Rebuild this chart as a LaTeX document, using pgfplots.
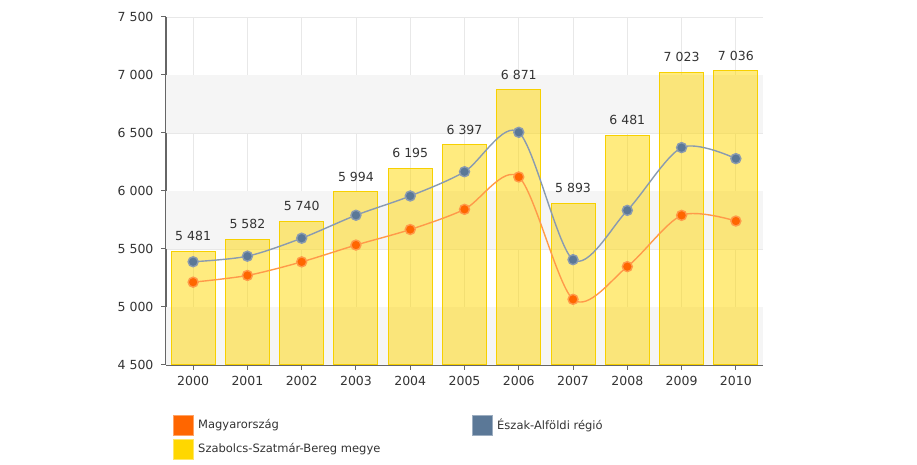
\documentclass[border=0pt]{standalone}
\usepackage{pgfplots}
\pgfplotsset{compat=1.18}
\usepackage{fontspec}
\setmainfont{DejaVu Sans}

\definecolor{txt}{HTML}{333333}
\definecolor{band}{HTML}{F5F5F5}
\definecolor{gridc}{HTML}{E8E8E8}
\definecolor{axisc}{HTML}{666666}
\definecolor{gold}{HTML}{FFD700}
\definecolor{goldedge}{HTML}{F7D000}
\definecolor{orgmark}{HTML}{FF6600}
\definecolor{orgline}{HTML}{FF9A4A}
\definecolor{bluemark}{HTML}{5B7897}
\definecolor{blueline}{HTML}{8A9BB0}

\begin{document}
\begin{tikzpicture}
\path[use as bounding box] (0pt,0pt) rectangle (917pt,465pt);
\begin{axis}[
  at={(166pt,100pt)}, anchor=south west,
  scale only axis,
  width=597pt, height=348pt,
  xmin=-0.5, xmax=10.5,
  ymin=4500, ymax=7500,
  axis x line*=bottom, axis y line*=left,
  axis line style={axisc, line width=1.3pt, -},
  xtick={0,...,10},
  xticklabels={2000,2001,2002,2003,2004,2005,2006,2007,2008,2009,2010},
  ytick={4500,5000,5500,6000,6500,7000,7500},
  yticklabels={4 500,5 000,5 500,6 000,6 500,7 000,7 500},
  tick align=outside,
  major tick length=5pt,
  tick style={axisc, line width=1pt},
  ticklabel style={font=\fontsize{12.5}{14}\selectfont, text=txt},
  xticklabel style={yshift=-3pt},
  yticklabel style={xshift=-4pt},
  xmajorgrids, ymajorgrids,
  grid style={gridc, line width=0.8pt},
]
\fill[band] (axis cs:-0.5,4500) rectangle (axis cs:10.5,5000);
\fill[band] (axis cs:-0.5,5500) rectangle (axis cs:10.5,6000);
\fill[band] (axis cs:-0.5,6500) rectangle (axis cs:10.5,7000);

% Szabolcs-Szatmar-Bereg megye
\addplot[ybar, bar width=0.81, fill=gold, fill opacity=0.5, draw=goldedge, line width=1pt,
  point meta=explicit symbolic,
  nodes near coords,
  nodes near coords style={font=\fontsize{12.5}{14}\selectfont, text=txt, text opacity=1, anchor=south, inner sep=0pt, yshift=10pt}]
  coordinates {
   (0,5481) [5 481]
   (1,5582) [5 582]
   (2,5740) [5 740]
   (3,5994) [5 994]
   (4,6195) [6 195]
   (5,6397) [6 397]
   (6,6871) [6 871]
   (7,5893) [5 893]
   (8,6481) [6 481]
   (9,7023) [7 023]
   (10,7036) [7 036]
  };

% Eszak-Alfoldi regio
\addplot[blueline, line width=1.4pt, smooth, mark=*, mark size=5pt,
  mark options={fill=bluemark, draw=none}]
  coordinates {
   (0,5390)(1,5438)(2,5593)(3,5791)(4,5957)(5,6166)
   (6,6506)(7,5408)(8,5833)(9,6374)(10,6279)
  };

% Magyarorszag
\addplot[orgline, line width=1.4pt, smooth, mark=*, mark size=5pt,
  mark options={fill=orgmark, draw=none}]
  coordinates {
   (0,5214)(1,5272)(2,5389)(3,5534)(4,5668)(5,5842)
   (6,6121)(7,5066)(8,5348)(9,5790)(10,5741)
  };
\end{axis}

% legend
\begin{scope}[every node/.style={font=\fontsize{11.5}{13}\selectfont, text=txt, anchor=west, inner sep=0pt}]
\fill[orgmark, draw=orgmark!60] (173pt,30pt) rectangle (193pt,50pt);
\node at (198pt,40pt) {Magyarország};
\fill[gold, draw=gold!60] (173pt,6pt) rectangle (193pt,26pt);
\node at (198pt,16pt) {Szabolcs-Szatmár-Bereg megye};
\fill[bluemark, draw=bluemark!60] (472pt,30pt) rectangle (492pt,50pt);
\node at (497pt,40pt) {Észak-Alföldi régió};
\end{scope}
\end{tikzpicture}
\end{document}
